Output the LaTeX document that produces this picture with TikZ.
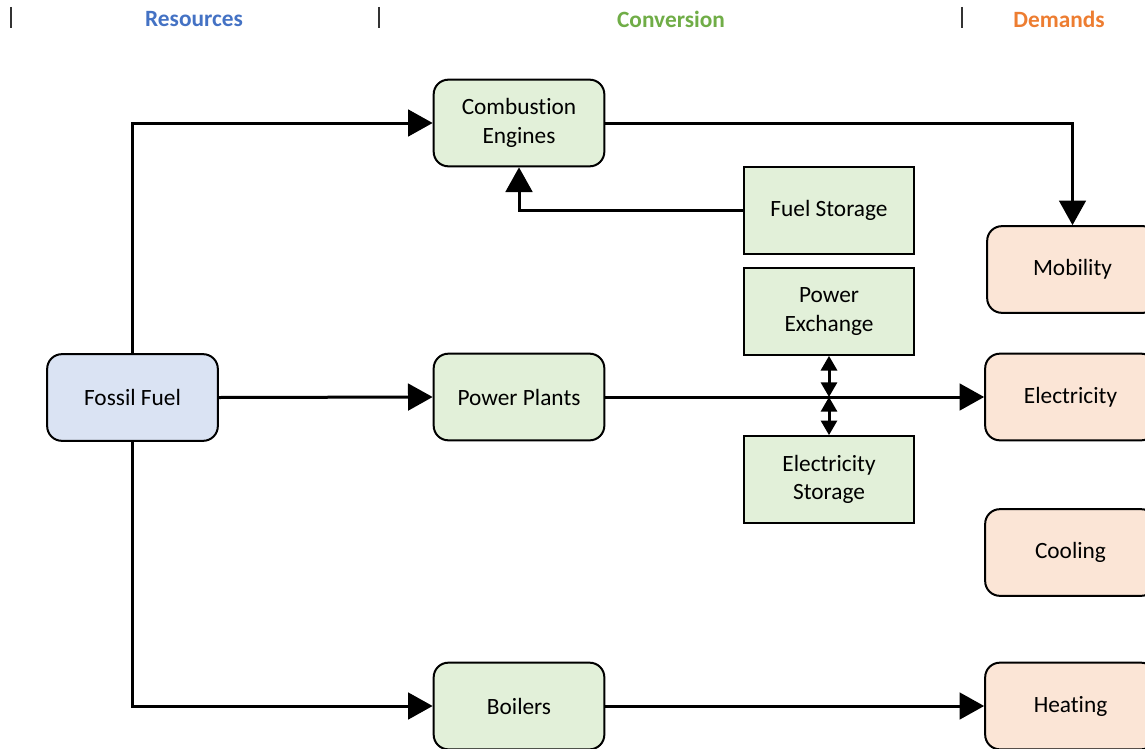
\documentclass[tikz,border=0pt]{standalone}
\usepackage{fontspec}
\setmainfont{Carlito}[Ligatures=NoCommon]
\usepackage{tikz}
\usetikzlibrary{arrows.meta,positioning}

\definecolor{resblue}{HTML}{4472C4}
\definecolor{convgreen}{HTML}{70AD47}
\definecolor{demorange}{HTML}{ED7D31}
\definecolor{resfill}{HTML}{DAE3F3}
\definecolor{convfill}{HTML}{E2F0D9}
\definecolor{demfill}{HTML}{FBE5D6}

\begin{document}
\begin{tikzpicture}[
    x=0.75pt, y=-0.75pt,
    font=\fontsize{17.5}{21.5}\selectfont,
    block/.style={rectangle, draw=black, line width=1.5pt, minimum width=128pt, minimum height=65pt, align=center, inner sep=2pt},
    resource/.style={block, fill=resfill, rounded corners=11pt},
    process/.style={block, fill=convfill, rounded corners=11pt},
    storage/.style={block, fill=convfill},
    demand/.style={block, fill=demfill, rounded corners=11pt},
    header/.style={font=\fontsize{17.5}{21.5}\selectfont\bfseries},
    arrow/.style={-{Triangle[length=18.5pt,width=20pt]}, line width=2.25pt},
    dblarrow/.style={{Triangle[length=11pt,width=12pt]}-{Triangle[length=11pt,width=12pt]}, line width=2.25pt}
]
    \clip (0,0) rectangle (1145,749);

    % column headings
    \node[header, text=resblue] (hres) at (194,19) {Resources};
    \node[header, text=convgreen] (hconv) at (671,19) {Conversion};
    \node[header, text=demorange] (hdem) at (1059,19) {Demands};
    \foreach \x in {11,379,962}
        \draw[line width=0.8pt, black!80] (\x,7) -- (\x,28);

    % resources
    \node[resource] (fossil) at (132.5,397.5) {Fossil Fuel};

    % conversion
    \node[process] (combustion) at (519,123) {Combustion\\Engines};
    \node[process] (plants) at (519,397) {Power Plants};
    \node[process] (boilers) at (519,706) {Boilers};
    \node[storage] (fuelstore) at (829,210.5) {Fuel Storage};
    \node[storage] (exchange) at (829,311.5) {Power\\Exchange};
    \node[storage] (elstore) at (829,479.5) {Electricity\\Storage};

    % demands
    \node[demand] (mobility) at (1072.5,269.5) {Mobility};
    \node[demand] (electricity) at (1070.5,397) {Electricity};
    \node[demand] (cooling) at (1070.5,552.5) {Cooling};
    \node[demand] (heating) at (1070.5,706) {Heating};

    % flows
    \draw[arrow] (fossil.north) |- (combustion.west);
    \draw[arrow] (fossil.east) -- (plants.west);
    \draw[arrow] (fossil.south) |- (boilers.west);
    \draw[arrow] (combustion.east) -| (mobility.north);
    \draw[arrow] (fuelstore.west) -| (combustion.south);
    \draw[arrow] (plants.east) -- (electricity.west);
    \draw[arrow] (boilers.east) -- (heating.west);

    \coordinate (tap) at (exchange.south |- plants.east);
    \draw[dblarrow] (exchange.south) -- (tap);
    \draw[dblarrow] (tap) -- (elstore.north);
\end{tikzpicture}
\end{document}
